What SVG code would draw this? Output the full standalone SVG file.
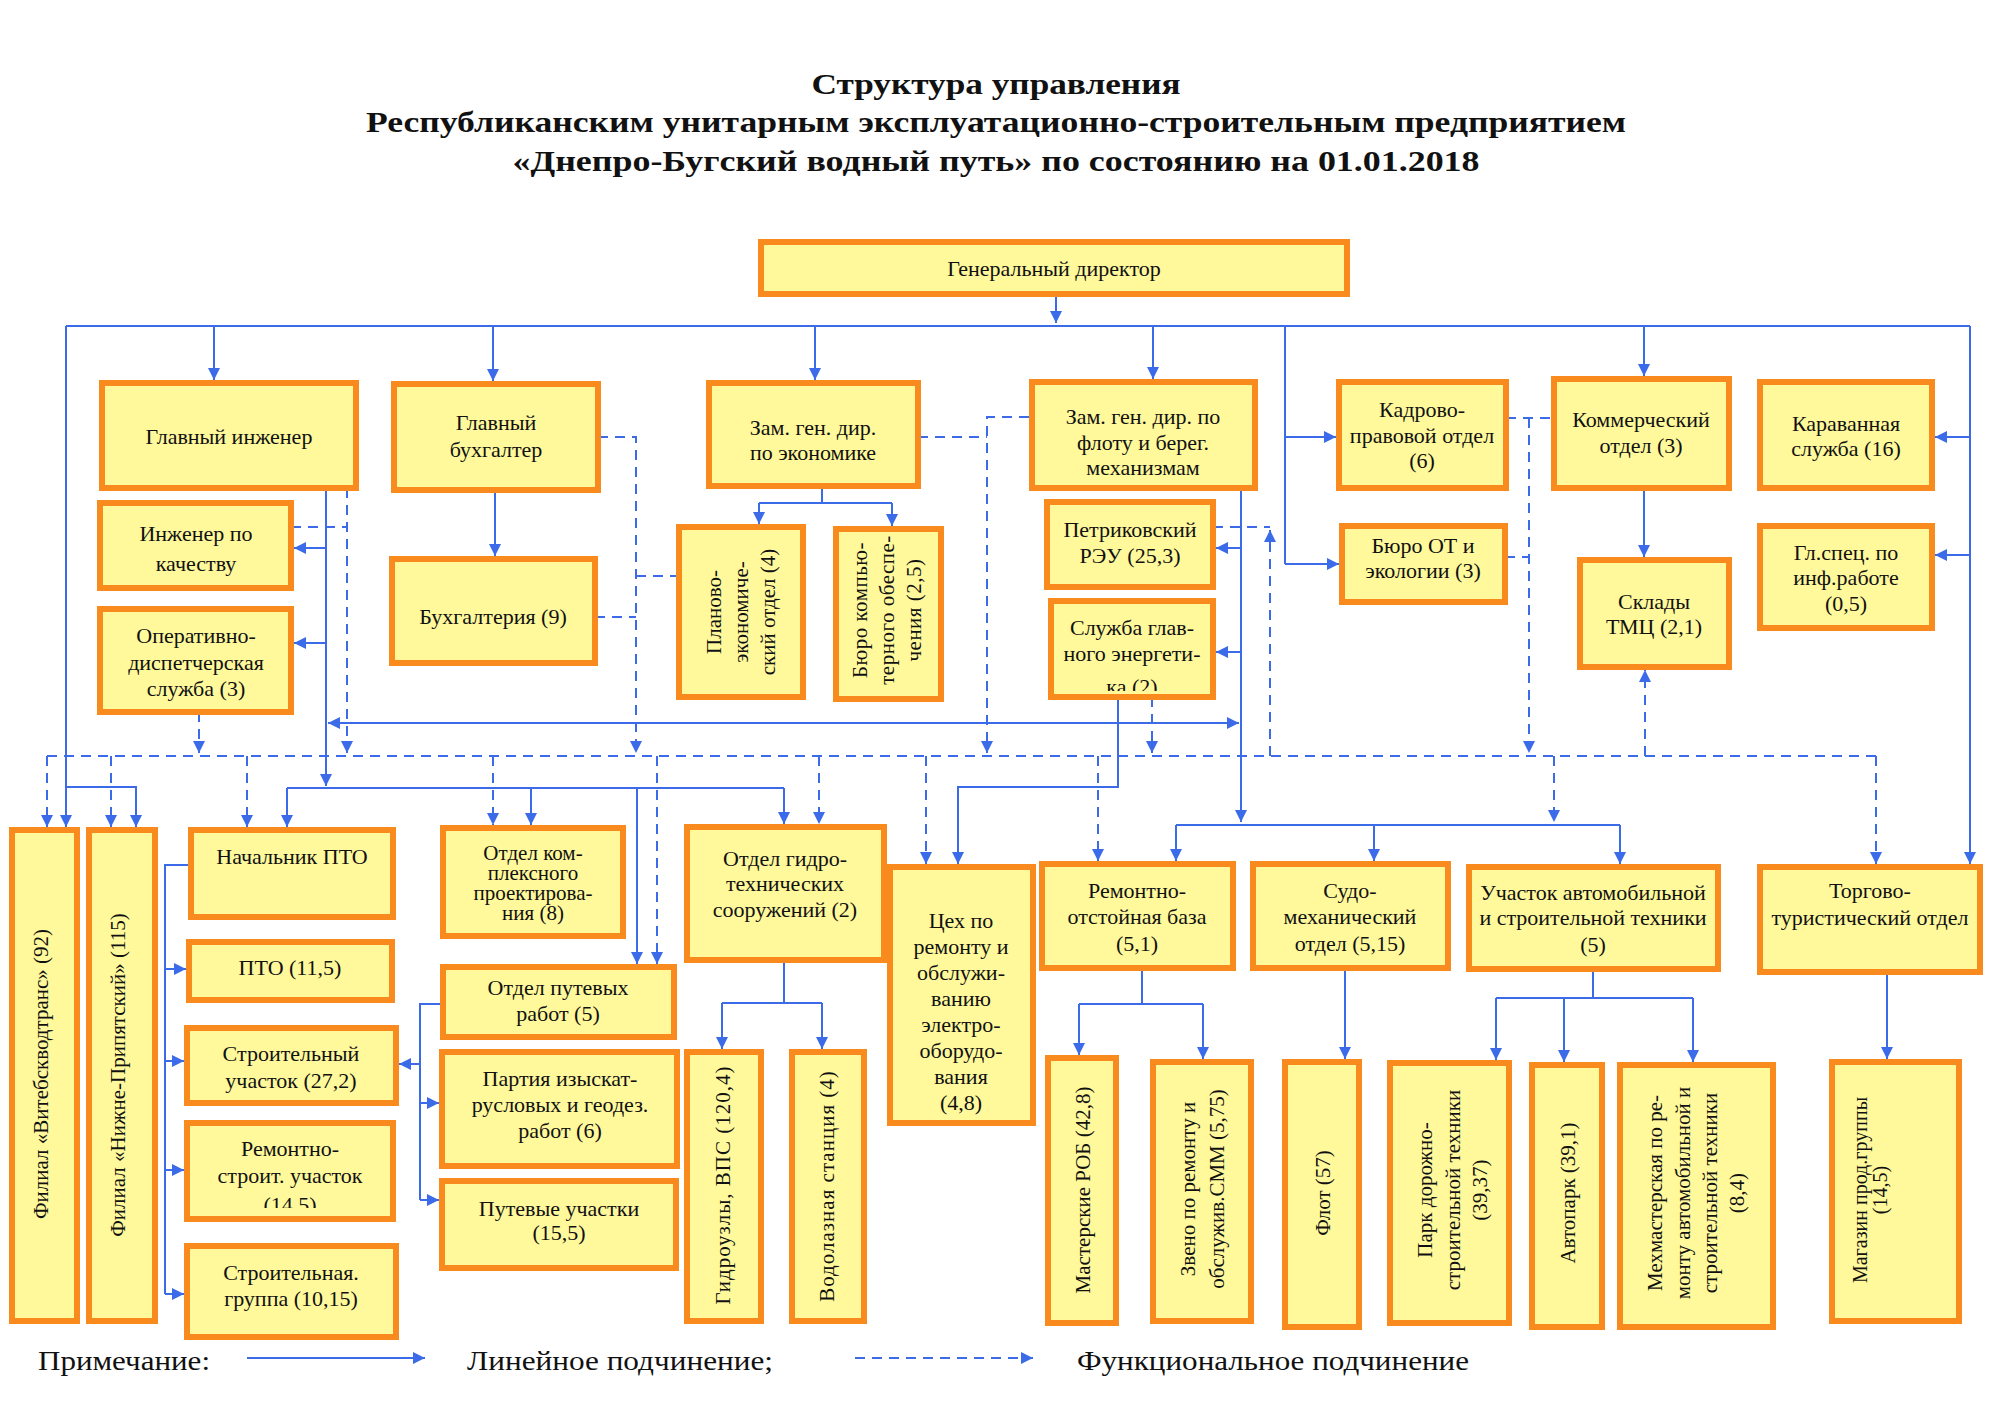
<svg xmlns="http://www.w3.org/2000/svg" width="2000" height="1415" viewBox="0 0 2000 1415">
<style>
.n rect{fill:#FFF99C;stroke:#F98A1E;stroke-width:6}
.t{font-family:"Liberation Serif","DejaVu Serif",serif;font-size:22px;fill:#111;text-anchor:middle}
.r{font-size:21px}
.ttl{font-family:"Liberation Serif","DejaVu Serif",serif;font-size:30px;font-weight:bold;fill:#111;text-anchor:middle}
.lg{font-family:"Liberation Serif","DejaVu Serif",serif;font-size:28px;fill:#111}
.s{stroke:#3B6BE8;stroke-width:2;fill:none}
.d{stroke:#3B6BE8;stroke-width:2;fill:none;stroke-dasharray:10 7}
.ar{marker-end:url(#a)}
</style>
<defs>
<marker id="a" viewBox="0 0 10 10" refX="10" refY="5" markerWidth="13" markerHeight="12" markerUnits="userSpaceOnUse" orient="auto-start-reverse"><path d="M0,0 L10,5 L0,10 z" fill="#3B6BE8"/></marker>
<clipPath id="c1"><rect x="1051" y="601" width="162" height="90"/></clipPath>
<clipPath id="c2"><rect x="187" y="1123" width="206" height="85"/></clipPath>
</defs>
<rect width="2000" height="1415" fill="#fff"/>
<g id="title">
<text class="ttl" x="996" y="94" textLength="369" lengthAdjust="spacingAndGlyphs">Структура управления</text>
<text class="ttl" x="996" y="132" textLength="1260" lengthAdjust="spacingAndGlyphs">Республиканским унитарным эксплуатационно-строительным предприятием</text>
<text class="ttl" x="996" y="171" textLength="967" lengthAdjust="spacingAndGlyphs">«Днепро-Бугский водный путь» по состоянию на 01.01.2018</text>
</g>
<g id="connectors">
<g id="solid">
<path class="s ar" d="M1056,294 V323"/>
<path class="s" d="M66,326 H1970"/>
<path class="s ar" d="M66,326 V827"/>
<path class="s ar" d="M214,326 V380"/>
<path class="s ar" d="M493,326 V381"/>
<path class="s ar" d="M815,326 V380"/>
<path class="s ar" d="M1153,326 V379"/>
<path class="s" d="M1285,326 V564"/>
<path class="s ar" d="M1285,437 H1336"/>
<path class="s ar" d="M1285,564 H1339"/>
<path class="s ar" d="M1644,326 V376"/>
<path class="s ar" d="M1970,326 V864"/>
<path class="s ar" d="M1970,437 H1935"/>
<path class="s ar" d="M1970,555 H1935"/>
<path class="s ar" d="M1644,488 V557"/>
<path class="s ar" d="M495,490 V556"/>
<path class="s" d="M822,486 V503 M759,503 H892"/>
<path class="s ar" d="M759,503 V524"/>
<path class="s ar" d="M892,503 V526"/>
<path class="s ar" d="M326,488 V786"/>
<path class="s ar" d="M326,548 H294"/>
<path class="s ar" d="M326,643 H294"/>
<path class="s ar" d="M328,723 H1239" marker-start="url(#a)"/>
<path class="s" d="M287,788 H784"/>
<path class="s ar" d="M287,788 V827"/>
<path class="s ar" d="M784,788 V824"/>
<path class="s ar" d="M531,788 V825"/>
<path class="s ar" d="M637,788 V964"/>
<path class="s ar" d="M66,787 H136 V827"/>
<path class="s" d="M191,865 H165 V1294"/>
<path class="s ar" d="M165,969 H186"/>
<path class="s ar" d="M165,1061 H184"/>
<path class="s ar" d="M165,1170 H184"/>
<path class="s ar" d="M165,1294 H184"/>
<path class="s" d="M443,1004 H420 V1200"/>
<path class="s ar" d="M420,1064 H399"/>
<path class="s ar" d="M420,1103 H439"/>
<path class="s ar" d="M420,1200 H439"/>
<path class="s" d="M784,960 V1003 M722,1003 H822"/>
<path class="s ar" d="M722,1003 V1049"/>
<path class="s ar" d="M822,1003 V1049"/>
<path class="s ar" d="M1118,697 V787 H958 V864"/>
<path class="s ar" d="M1241,488 V822"/>
<path class="s ar" d="M1241,548 H1216"/>
<path class="s ar" d="M1241,652 H1216"/>
<path class="s" d="M1176,825 H1620"/>
<path class="s ar" d="M1176,825 V861"/>
<path class="s ar" d="M1374,825 V861"/>
<path class="s ar" d="M1620,825 V864"/>
<path class="s" d="M1142,968 V1004 M1079,1004 H1203"/>
<path class="s ar" d="M1079,1004 V1055"/>
<path class="s ar" d="M1203,1004 V1059"/>
<path class="s ar" d="M1345,968 V1059"/>
<path class="s" d="M1593,969 V998 M1496,998 H1693"/>
<path class="s ar" d="M1496,998 V1060"/>
<path class="s ar" d="M1564,998 V1062"/>
<path class="s ar" d="M1693,998 V1062"/>
<path class="s ar" d="M1887,972 V1059"/>
</g>
<g id="dashed">
<path class="d" d="M47,756 H1876"/>
<path class="d ar" d="M47,756 V827"/>
<path class="d ar" d="M111,756 V827"/>
<path class="d ar" d="M199,712 V753"/>
<path class="d" d="M291,527 H347"/>
<path class="d ar" d="M347,488 V753"/>
<path class="d ar" d="M247,756 V827"/>
<path class="d ar" d="M493,756 V825"/>
<path class="d ar" d="M657,756 V964"/>
<path class="d ar" d="M598,437 H636 V753"/>
<path class="d" d="M595,617 H636 M636,576 H676"/>
<path class="d ar" d="M819,756 V824"/>
<path class="d" d="M918,437 H987"/>
<path class="d ar" d="M1029,417 H987 V753"/>
<path class="d ar" d="M926,756 V864"/>
<path class="d ar" d="M1152,697 V753"/>
<path class="d ar" d="M1098,756 V861"/>
<path class="d" d="M1213,527 H1270"/>
<path class="d ar" d="M1270,756 V530"/>
<path class="d" d="M1506,418 H1551 M1505,557 H1529"/>
<path class="d ar" d="M1529,418 V753"/>
<path class="d ar" d="M1645,756 V670"/>
<path class="d ar" d="M1554,756 V822"/>
<path class="d ar" d="M1876,756 V864"/>
</g>
</g>
<g id="gd" class="n"><rect x="761" y="242" width="586" height="52"/><text class="t" x="1054" y="276">Генеральный директор</text></g>
<g id="gl-inzh" class="n"><rect x="102" y="383" width="254" height="105"/><text class="t" x="229" y="444">Главный инженер</text></g>
<g id="gl-buh" class="n"><rect x="394" y="384" width="204" height="106"/><text class="t" x="496"><tspan x="496" y="430">Главный</tspan><tspan x="496" y="457">бухгалтер</tspan></text></g>
<g id="zam-ek" class="n"><rect x="709" y="383" width="209" height="103"/><text class="t"><tspan x="813" y="435">Зам. ген. дир.</tspan><tspan x="813" y="460">по экономике</tspan></text></g>
<g id="zam-flot" class="n"><rect x="1032" y="382" width="223" height="106"/><text class="t"><tspan x="1143" y="424">Зам. ген. дир. по</tspan><tspan x="1143" y="450">флоту и берег.</tspan><tspan x="1143" y="475">механизмам</tspan></text></g>
<g id="kadr" class="n"><rect x="1339" y="382" width="167" height="106"/><text class="t"><tspan x="1422" y="417">Кадрово-</tspan><tspan x="1422" y="443">правовой отдел</tspan><tspan x="1422" y="468">(6)</tspan></text></g>
<g id="komm" class="n"><rect x="1554" y="379" width="175" height="109"/><text class="t"><tspan x="1641" y="427">Коммерческий</tspan><tspan x="1641" y="453">отдел (3)</tspan></text></g>
<g id="karav" class="n"><rect x="1760" y="382" width="172" height="106"/><text class="t"><tspan x="1846" y="431">Караванная</tspan><tspan x="1846" y="456">служба (16)</tspan></text></g>
<g id="inzh-kach" class="n"><rect x="100" y="503" width="191" height="85"/><text class="t"><tspan x="196" y="541">Инженер по</tspan><tspan x="196" y="571">качеству</tspan></text></g>
<g id="ods" class="n"><rect x="100" y="609" width="191" height="103"/><text class="t"><tspan x="196" y="643">Оперативно-</tspan><tspan x="196" y="670">диспетчерская</tspan><tspan x="196" y="696">служба (3)</tspan></text></g>
<g id="buh" class="n"><rect x="392" y="559" width="203" height="104"/><text class="t" x="493" y="624">Бухгалтерия (9)</text></g>
<g id="plan" class="n"><rect x="679" y="527" width="124" height="170"/><text class="t r" transform="translate(741,612) rotate(-90)"><tspan x="0" y="-20">Планово-</tspan><tspan x="0" y="7">экономиче-</tspan><tspan x="0" y="34">ский отдел (4)</tspan></text></g>
<g id="buro-komp" class="n"><rect x="836" y="529" width="105" height="170"/><text class="t r" transform="translate(888,610) rotate(-90)" letter-spacing="0.5"><tspan x="0" y="-21">Бюро компью-</tspan><tspan x="0" y="6">терного обеспе-</tspan><tspan x="0" y="33">чения (2,5)</tspan></text></g>
<g id="petr" class="n"><rect x="1047" y="502" width="166" height="85"/><text class="t"><tspan x="1130" y="537">Петриковский</tspan><tspan x="1130" y="563">РЭУ (25,3)</tspan></text></g>
<g id="energ" class="n"><rect x="1051" y="601" width="162" height="96"/><text class="t" clip-path="url(#c1)"><tspan x="1132" y="635">Служба глав-</tspan><tspan x="1132" y="661">ного энергети-</tspan><tspan x="1132" y="694">ка (2)</tspan></text></g>
<g id="buro-ot" class="n"><rect x="1342" y="526" width="163" height="76"/><text class="t"><tspan x="1423" y="553">Бюро ОТ и</tspan><tspan x="1423" y="578">экологии (3)</tspan></text></g>
<g id="sklad" class="n"><rect x="1580" y="560" width="149" height="107"/><text class="t"><tspan x="1654" y="609">Склады</tspan><tspan x="1654" y="634">ТМЦ (2,1)</tspan></text></g>
<g id="glspec" class="n"><rect x="1760" y="526" width="172" height="102"/><text class="t"><tspan x="1846" y="560">Гл.спец. по</tspan><tspan x="1846" y="585">инф.работе</tspan><tspan x="1846" y="611">(0,5)</tspan></text></g>
<g id="vitebsk" class="n"><rect x="12" y="830" width="65" height="491"/><text class="t r" transform="translate(44,1074) rotate(-90)" x="0" y="4">Филиал «Витебскводтранс» (92)</text></g>
<g id="nizhne" class="n"><rect x="89" y="830" width="66" height="491"/><text class="t r" transform="translate(122,1075) rotate(-90)" x="0" y="3">Филиал «Нижне-Припятский» (115)</text></g>
<g id="nach-pto" class="n"><rect x="191" y="830" width="202" height="87"/><text class="t" x="292" y="864">Начальник ПТО</text></g>
<g id="pto" class="n"><rect x="189" y="942" width="203" height="58"/><text class="t" x="290" y="975">ПТО (11,5)</text></g>
<g id="str-uch" class="n"><rect x="187" y="1028" width="209" height="75"/><text class="t"><tspan x="291" y="1061">Строительный</tspan><tspan x="291" y="1088">участок (27,2)</tspan></text></g>
<g id="rem-str" class="n"><rect x="187" y="1123" width="206" height="96"/><text class="t" clip-path="url(#c2)"><tspan x="290" y="1156">Ремонтно-</tspan><tspan x="290" y="1183">строит. участок</tspan><tspan x="290" y="1212">(14.5)</tspan></text></g>
<g id="str-gr" class="n"><rect x="187" y="1246" width="209" height="91"/><text class="t"><tspan x="291" y="1280">Строительная.</tspan><tspan x="291" y="1306">группа (10,15)</tspan></text></g>
<g id="kompl" class="n"><rect x="443" y="828" width="180" height="108"/><text class="t" style="font-size:21px"><tspan x="533" y="860">Отдел ком-</tspan><tspan x="533" y="880">плексного</tspan><tspan x="533" y="900">проектирова-</tspan><tspan x="533" y="920">ния (8)</tspan></text></g>
<g id="put-rab" class="n"><rect x="443" y="967" width="231" height="70"/><text class="t"><tspan x="558" y="995">Отдел путевых</tspan><tspan x="558" y="1021">работ (5)</tspan></text></g>
<g id="partiya" class="n"><rect x="442" y="1052" width="235" height="114"/><text class="t"><tspan x="560" y="1086">Партия изыскат-</tspan><tspan x="560" y="1112">русловых и геодез.</tspan><tspan x="560" y="1138">работ (6)</tspan></text></g>
<g id="put-uch" class="n"><rect x="442" y="1181" width="234" height="87"/><text class="t"><tspan x="559" y="1216">Путевые участки</tspan><tspan x="559" y="1240">(15,5)</tspan></text></g>
<g id="gidro" class="n"><rect x="687" y="827" width="197" height="133"/><text class="t"><tspan x="785" y="866">Отдел гидро-</tspan><tspan x="785" y="891">технических</tspan><tspan x="785" y="917">сооружений (2)</tspan></text></g>
<g id="gidrouzly" class="n"><rect x="687" y="1052" width="74" height="269"/><text class="t r" transform="translate(724,1185) rotate(-90)" x="0" y="6" letter-spacing="1">Гидроузлы, ВПС (120,4)</text></g>
<g id="vodolaz" class="n"><rect x="792" y="1052" width="72" height="269"/><text class="t r" transform="translate(828,1186) rotate(-90)" x="0" y="6" letter-spacing="1">Водолазная станция (4)</text></g>
<g id="ceh" class="n"><rect x="890" y="867" width="143" height="256"/><text class="t"><tspan x="961" y="928">Цех по</tspan><tspan x="961" y="954">ремонту и</tspan><tspan x="961" y="980">обслужи-</tspan><tspan x="961" y="1006">ванию</tspan><tspan x="961" y="1032">электро-</tspan><tspan x="961" y="1058">оборудо-</tspan><tspan x="961" y="1084">вания</tspan><tspan x="961" y="1110">(4,8)</tspan></text></g>
<g id="rob" class="n"><rect x="1042" y="864" width="191" height="104"/><text class="t"><tspan x="1137" y="898">Ремонтно-</tspan><tspan x="1137" y="924">отстойная база</tspan><tspan x="1137" y="951">(5,1)</tspan></text></g>
<g id="sudo" class="n"><rect x="1253" y="864" width="195" height="104"/><text class="t"><tspan x="1350" y="898">Судо-</tspan><tspan x="1350" y="924">механический</tspan><tspan x="1350" y="951">отдел (5,15)</tspan></text></g>
<g id="avto" class="n"><rect x="1469" y="867" width="249" height="102"/><text class="t"><tspan x="1593" y="900">Участок автомобильной</tspan><tspan x="1593" y="925">и строительной техники</tspan><tspan x="1593" y="952">(5)</tspan></text></g>
<g id="torg" class="n"><rect x="1760" y="867" width="220" height="105"/><text class="t"><tspan x="1870" y="898">Торгово-</tspan><tspan x="1870" y="925">туристический отдел</tspan></text></g>
<g id="master-rob" class="n"><rect x="1048" y="1058" width="68" height="265"/><text class="t r" transform="translate(1082,1190) rotate(-90)" x="0" y="8">Мастерские РОБ (42,8)</text></g>
<g id="zveno" class="n"><rect x="1153" y="1062" width="98" height="259"/><text class="t r" transform="translate(1202,1189) rotate(-90)"><tspan x="0" y="-7">Звено по ремонту и</tspan><tspan x="0" y="22">обслужив.СММ (5,75)</tspan></text></g>
<g id="flot" class="n"><rect x="1285" y="1062" width="74" height="265"/><text class="t r" transform="translate(1322,1193) rotate(-90)" x="0" y="8">Флот (57)</text></g>
<g id="park" class="n"><rect x="1390" y="1063" width="119" height="260"/><text class="t r" transform="translate(1450,1190) rotate(-90)"><tspan x="0" y="-18">Парк дорожно-</tspan><tspan x="0" y="10">строительной техники</tspan><tspan x="0" y="37">(39,37)</tspan></text></g>
<g id="avtopark" class="n"><rect x="1532" y="1065" width="70" height="262"/><text class="t r" transform="translate(1567,1193) rotate(-90)" x="0" y="8">Автопарк (39,1)</text></g>
<g id="meh" class="n"><rect x="1620" y="1065" width="153" height="262"/><text class="t r" transform="translate(1696,1193) rotate(-90)"><tspan x="0" y="-34">Мехмастерская по ре-</tspan><tspan x="0" y="-6">монту автомобильной и</tspan><tspan x="0" y="21">строительной техники</tspan><tspan x="0" y="48">(8,4)</tspan></text></g>
<g id="magazin" class="n"><rect x="1832" y="1062" width="127" height="259"/><text class="t" style="font-size:20px" transform="translate(1895,1190) rotate(-90)"><tspan x="0" y="-28">Магазин прод.группы</tspan><tspan x="0" y="-8">(14,5)</tspan></text></g>
<g id="legend">
<text class="lg" x="38" y="1370" textLength="172" lengthAdjust="spacingAndGlyphs">Примечание:</text>
<path class="s ar" d="M247,1358 H425"/>
<text class="lg" x="467" y="1370" textLength="306" lengthAdjust="spacingAndGlyphs">Линейное подчинение;</text>
<path class="d ar" d="M855,1358 H1033"/>
<text class="lg" x="1077" y="1370" textLength="392" lengthAdjust="spacingAndGlyphs">Функциональное подчинение</text>
</g>
</svg>
